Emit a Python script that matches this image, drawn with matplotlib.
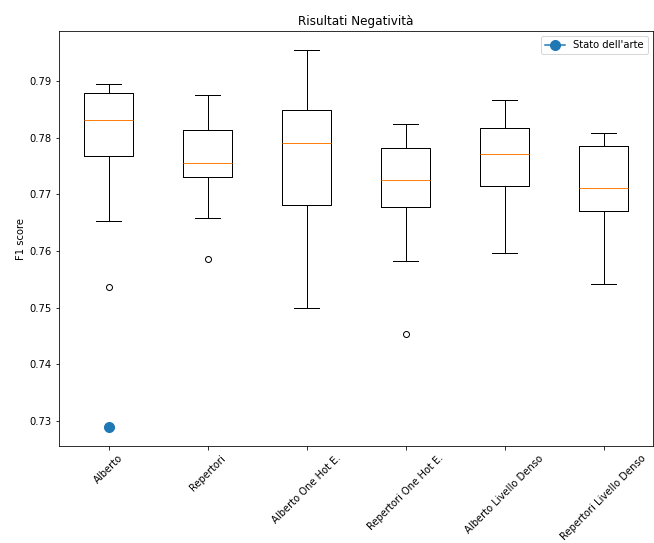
import matplotlib
matplotlib.use("Agg")
import matplotlib.pyplot as plt

# box statistics
labels = ["Alberto", "Repertori", "Alberto One Hot E.", "Repertori One Hot E.",
          "Alberto Livello Denso", "Repertori Livello Denso"]
whis_lo = [0.7653, 0.7659, 0.7500, 0.7583, 0.7596, 0.7541]
q1 = [0.7768, 0.7731, 0.7681, 0.7678, 0.7714, 0.7671]
median = [0.7832, 0.7755, 0.7790, 0.7725, 0.7772, 0.7712]
q3 = [0.7878, 0.7814, 0.7849, 0.7781, 0.7817, 0.7786]
whis_hi = [0.7895, 0.7876, 0.7955, 0.7825, 0.7866, 0.7809]
fliers = [[0.7536], [0.7586], [], [0.7453], [], []]

# state of the art value
sota_pos = [1]
sota_val = [0.7289]


def main():
    # the reference was rendered at 72 dpi
    fig = plt.figure(figsize=(654 / 72, 543 / 72), dpi=72)
    ax = fig.add_axes([59 / 654, 97 / 543, 594 / 654, 415 / 543])

    stats = []
    for i in range(len(labels)):
        stats.append({
            "label": labels[i],
            "whislo": whis_lo[i],
            "q1": q1[i],
            "med": median[i],
            "q3": q3[i],
            "whishi": whis_hi[i],
            "fliers": fliers[i],
        })
    ax.bxp(stats, showfliers=True)

    ax.plot(sota_pos, sota_val, marker='o', markersize=10, label="Stato dell'arte")

    ax.set_title("Risultati Negatività")
    ax.set_ylabel("F1 score")
    plt.setp(ax.get_xticklabels(), rotation=45)
    ax.legend(loc="upper right")

    fig.savefig("out.png", dpi=72)


if __name__ == "__main__":
    main()
